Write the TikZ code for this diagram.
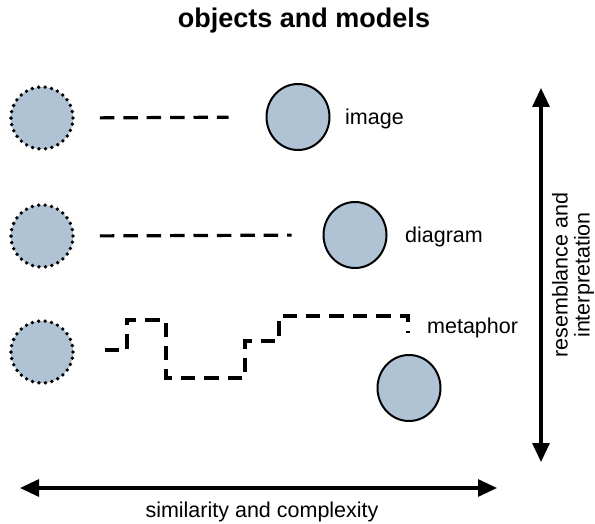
\documentclass[tikz,border=0pt]{standalone}
\usepackage{fontspec}
\setmainfont{Liberation Sans}
\usetikzlibrary{arrows.meta,shapes.geometric}
\definecolor{objfill}{RGB}{175,195,213}

\begin{document}
\begin{tikzpicture}[x=1pt,y=-1pt,
  obj/.style={circle,fill=objfill,minimum size=62pt,inner sep=0pt,draw,line width=3.8pt,line cap=round,dash pattern=on 0pt off 6.5pt},
  model/.style={ellipse,fill=objfill,minimum width=63pt,minimum height=66pt,inner sep=0pt,draw,line width=2pt},
  link/.style={line width=3.2pt,dash pattern=on 14.5pt off 8.9pt},
  lbl/.style={font=\fontsize{21.5}{22}\selectfont,inner sep=0pt},
  bigarrow/.style={line width=3.2pt,{Triangle[length=19pt,width=17pt]}-{Triangle[length=19pt,width=17pt]}}]
\useasboundingbox (0,0) rectangle (595,524);
\node[font=\fontsize{27}{30}\selectfont\bfseries,anchor=base] (title) at (304,28) {objects and models};
% objects
\node[obj] (o1) at (42,118) {};
\node[obj] (o2) at (42,236) {};
\node[obj] (o3) at (42,352) {};
% models
\node[model] (m1) at (298,117) {};
\node[model] (m2) at (355,235) {};
\node[model] (m3) at (409,388) {};
\node[lbl,anchor=base west] (l1) at (345,125) {image};
\node[lbl,anchor=base west] (l2) at (405,243) {diagram};
\node[lbl,anchor=base west] (l3) at (427,333) {metaphor};
% links
\draw[link,shorten <=25pt,shorten >=37pt] (o1.east) -- (m1.west);
\draw[link,shorten <=25pt,shorten >=31pt] (o2.east) -- (m2.west);
\coordinate (mend) at (408,333);
\draw[link] ([xshift=30pt]o3.east |- 0,350) -- (127,350) -- (127,320) -- (166,320) -- (166,378)
  -- (245,378) -- (245,341) -- (279,341) -- (279,316) -- (408,316) -- (mend);
% axes
\coordinate (hl) at (20,488);
\coordinate (hr) at (497,488);
\coordinate (vt) at (541,88);
\coordinate (vb) at (541,462);
\draw[bigarrow] (hl) -- (hr);
\draw[bigarrow] (vt) -- (vb);
\node[lbl,anchor=base] (hlab) at (262,517) {similarity and complexity};
\node[lbl,rotate=90,align=center] (vlab) at (573,275) {resemblance and\\interpretation};
\end{tikzpicture}
\end{document}
